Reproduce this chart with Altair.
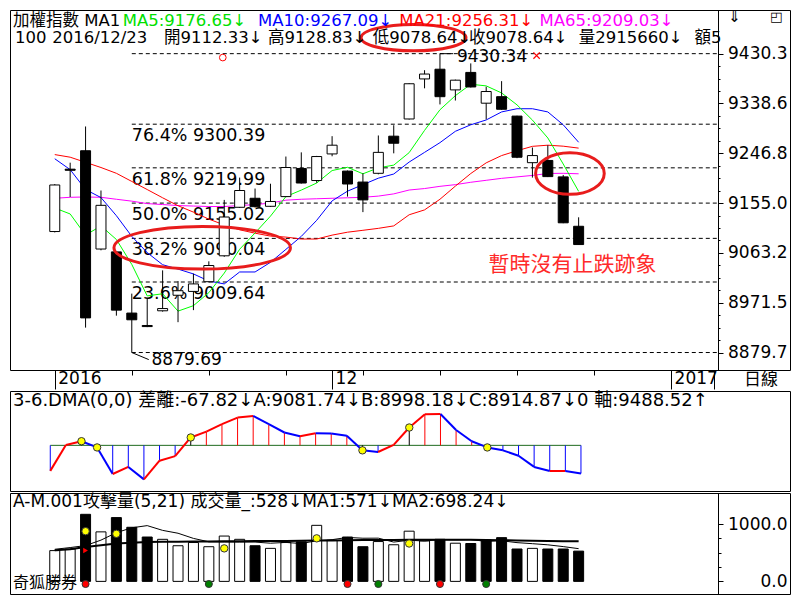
import altair as alt
import pandas as pd
import numpy as np

# ---------------- data ----------------
dates = ["2016/11/07", "2016/11/08", "2016/11/09", "2016/11/10", "2016/11/11",
         "2016/11/14", "2016/11/15", "2016/11/16", "2016/11/17", "2016/11/18",
         "2016/11/21", "2016/11/22", "2016/11/23", "2016/11/24", "2016/11/25",
         "2016/11/28", "2016/11/29", "2016/11/30", "2016/12/01", "2016/12/02",
         "2016/12/05", "2016/12/06", "2016/12/07", "2016/12/08", "2016/12/09",
         "2016/12/12", "2016/12/13", "2016/12/14", "2016/12/15", "2016/12/16",
         "2016/12/19", "2016/12/20", "2016/12/21", "2016/12/22", "2016/12/23"]
open_ = [9102.6, 9217.5, 9251.5, 9070.4, 9065.1, 8952.4, 8929.5, 8956.6, 8985.2, 8992.3,
         9010.2, 9057.9, 9147.3, 9163.9, 9149.1, 9167.0, 9218.8, 9196.6, 9245.6, 9214.0,
         9193.8, 9209.9, 9278.3, 9310.0, 9383.8, 9401.7, 9363.6, 9395.8, 9339.1, 9351.1,
         9315.3, 9229.5, 9233.6, 9203.3, 9112.33]
high = [9190.0, 9229.5, 9296.2, 9178.2, 9066.0, 8988.2, 8979.3, 9031.1, 9011.4, 9025.0,
        9047.7, 9160.9, 9202.0, 9181.8, 9190.7, 9240.8, 9248.5, 9242.0, 9278.3, 9215.0,
        9209.9, 9279.6, 9298.5, 9376.0, 9399.9, 9430.34, 9382.5, 9412.4, 9369.5, 9379.7,
        9316.0, 9257.4, 9261.7, 9206.9, 9128.83]
low = [9101.0, 9166.2, 8925.6, 9068.0, 8947.6, 8879.69, 8926.5, 8955.0, 8935.6, 8957.8,
       9009.0, 9056.0, 9146.0, 9147.0, 9148.0, 9166.0, 9191.0, 9192.5, 9241.3, 9167.0,
       9138.4, 9208.0, 9246.7, 9309.0, 9366.5, 9336.8, 9344.0, 9368.0, 9309.3, 9327.0,
       9237.8, 9202.0, 9203.0, 9118.0, 9078.64]
close = [9188.4, 9215.5, 8943.5, 9150.9, 8957.8, 8940.0, 8927.5, 8960.7, 8993.6, 9006.1,
         9040.0, 9129.4, 9178.2, 9148.4, 9158.0, 9220.6, 9192.0, 9240.8, 9261.7, 9190.2,
         9160.9, 9248.5, 9265.3, 9374.9, 9392.8, 9351.1, 9381.5, 9369.0, 9360.6, 9327.9,
         9239.5, 9242.6, 9203.8, 9118.7, 9078.64]
ma5 = [9146, 9135, 9096, 9113, 9088, 9042, 8984, 8988, 8956, 8966,
       8990, 9026, 9070, 9100, 9131, 9167, 9179, 9192, 9215, 9221,
       9209, 9220, 9225, 9248, 9289, 9327, 9353, 9374, 9371, 9358,
       9336, 9308, 9275, 9227, 9176.65]
ma10 = [9236.7, 9216.7, 9180.0, 9165.2, 9131.8, 9093.7, 9063.8, 9041.5, 9033.4, 9024.5,
        9011.4, 9006.1, 9028.1, 9028.1, 9045.9, 9069.7, 9093.7, 9123.3, 9159.1, 9177.0,
        9189.0, 9200.9, 9208.6, 9230.6, 9248.5, 9266.4, 9287.3, 9299.3, 9308.2, 9323.0,
        9328.9, 9328.9, 9323.0, 9299.3, 9267.09]
ma21 = [9244.4, 9239.6, 9230.1, 9220.6, 9209.9, 9194.9, 9180.0, 9164.8, 9150.2, 9138.4,
        9125.5, 9114.8, 9105.8, 9099.6, 9094.2, 9092.4, 9088.8, 9088.8, 9096.0, 9101.4,
        9104.9, 9108.5, 9113.0, 9133.5, 9142.5, 9162.1, 9186.3, 9209.5, 9229.2, 9242.6,
        9251.5, 9259.6, 9261.7, 9259.9, 9256.31]
ma65 = [9163.9, 9165.7, 9166.3, 9165.7, 9162.1, 9158.6, 9154.1, 9152.3, 9150.5, 9149.6,
        9148.7, 9148.7, 9150.5, 9152.3, 9155.0, 9160.4, 9162.1, 9163.0, 9163.9, 9164.8,
        9165.7, 9167.9, 9172.0, 9179.1, 9181.8, 9185.9, 9189.0, 9193.4, 9197.0, 9200.6,
        9203.3, 9206.0, 9209.6, 9209.9, 9209.03]
fib_pct = ["76.4%", "61.8%", "50.0%", "38.2%", "23.6%"]
fib_val = [9300.39, 9219.99, 9155.02, 9090.04, 9009.64]
price_ticks = [8879.7, 8971.5, 9063.2, 9155.0, 9246.8, 9338.6, 9430.3]
date_tick_idx = [0, 18, 40]
date_tick_lbl = ["2016", "12", "2017"]
week_tick_idx = [5, 10, 15, 20, 25, 30, 35]

dma = [-61.5, 1.0, 10.0, -5.0, -69.0, -52.0, -82.0, -37.0, -26.0, 19.0,
       33.0, 51.0, 67.0, 71.0, 51.0, 31.0, 22.0, 29.0, 28.5, 23.0,
       -12.0, -16.0, 1.0, 43.0, 75.0, 75.5, 37.0, 10.0, -5.0, -12.0,
       -25.0, -52.0, -62.0, -61.8, -67.82]
dma_cross = [2, 3, 9, 20, 23, 28]
dma_readout = {"A": 9081.74, "B": 8998.18, "C": 8914.87, "axis": 9488.52}

volume = [537, 565, 1170, 864, 1113, 944, 774, 734, 622, 678,
          605, 791, 734, 622, 576, 678, 690, 978, 717, 774,
          605, 695, 639, 876, 707, 734, 666, 661, 723, 763,
          565, 576, 565, 565, 528]
vol_ma1 = [560, 590, 625, 720, 850, 935, 973, 890, 840, 750,
           690, 686, 686, 686, 666, 680, 660, 709, 728, 767,
           753, 754, 686, 718, 704, 730, 724, 729, 698, 709,
           676, 658, 638, 607, 571]
vol_ma2 = [545, 560, 600, 630, 660, 675, 685, 690, 692, 695,
           698, 700, 702, 703, 705, 706, 708, 712, 715, 718,
           720, 722, 724, 726, 728, 728, 727, 725, 722, 718,
           714, 710, 706, 702, 698.24]
vol_ticks = [0, 1000]
vol_minor_ticks = [250, 500, 750]
vol_yellow_idx = [2, 4, 11, 17, 23]
vol_yellow_val = [876, 830, 576, 751, 661]
flag_idx = [2]
flag_val = [540]
buy_idx = [2, 19, 25]
sell_idx = [10, 21, 28]

# ---------------- layout ----------------
FONT = "DejaVu Sans, Noto Sans CJK TC"
CJK = "Noto Sans CJK TC, DejaVu Sans"
W, WD = 780, 708          # full panel width, data-area width (divider position)
H1, H2, H3 = 360, 100, 101
STRIP = 19
X_LO, X_DIV = -2.58, 42.78
X_HI = X_LO + (X_DIV - X_LO) * W / WD
AX_OFF = WD - W
SX = WD / 722.0
SY1 = H1 / 371.0

n = len(close)
idx = np.arange(n)
xs = alt.Scale(domain=[X_LO, X_HI], nice=False, zero=False)
ys1 = alt.Scale(domain=[8847.5, 9510.8], nice=False, zero=False)
ys2 = alt.Scale(domain=[-110, 131], nice=False, zero=False)
ys3 = alt.Scale(domain=[-220, 1542], nice=False, zero=False)


def X(field, axis=None):
    return alt.X(field, type="quantitative", scale=xs, axis=axis)


one = pd.DataFrame({"k": [0]})


def label(text, px, py, color="black", size=16.5, font=FONT, align="left"):
    return alt.Chart(one).mark_text(text=text, color=color, fontSize=size, font=font,
                                    align=align, baseline="middle").encode(
        x=alt.value(px), y=alt.value(py))


def ellipse(cx, cy, w, h, sx, sy):
    ratio = (h * sy) / (w * sx)
    path = f"M -1 0 A 1 {ratio:.3f} 0 1 1 1 0 A 1 {ratio:.3f} 0 1 1 -1 0 Z"
    return alt.Chart(one).mark_point(shape=path, size=(w * sx) ** 2, filled=False,
                                     color="#e81c1c", strokeWidth=3, opacity=1).encode(
        x=alt.value(cx * sx), y=alt.value(cy * sy))


# ---- axes ----
lbl_expr = " : ".join([f"datum.value == {i} ? '{t}'" for i, t in zip(date_tick_idx, date_tick_lbl)]) + " : ''"
xaxis_major = alt.Axis(orient="bottom", values=date_tick_idx + [X_DIV], labelExpr=lbl_expr,
                       domain=False, grid=False, tickColor="black", tickWidth=1, tickSize=STRIP,
                       labelAlign="left", labelBaseline="top", labelPadding=-STRIP, labelOffset=3,
                       labelFont=FONT, labelFontSize=17, labelColor="black",
                       labelOverlap=False, labelFlush=False, labelBound=False, title=None)
# weekly ticks hanging from the bottom border into the date strip
xaxis_minor = alt.Axis(orient="top", offset=-(H1 + 5), values=week_tick_idx, labels=False,
                       domain=False, grid=False, tickColor="black", tickWidth=1, tickSize=5,
                       title=None)


def right_axis(values, fmt):
    return alt.Axis(orient="right", offset=AX_OFF, values=values, format=fmt,
                    tickSize=5, tickColor="black", domain=True, domainColor="black",
                    domainWidth=1, grid=False, labelAlign="right", labelPadding=64,
                    labelFont=FONT, labelFontSize=17, labelColor="black",
                    labelOverlap=False, labelFlush=False, labelBound=False, title=None)


def minor_axis(values, size):
    # small ticks just right of the divider (left-oriented axis moved onto the divider)
    return alt.Axis(orient="left", offset=-(WD + size), values=values, labels=False,
                    domain=False, grid=False, tickColor="black", tickWidth=1, tickSize=size,
                    title=None)


minor_price = []
for a, b in zip(price_ticks[:-1], price_ticks[1:]):
    minor_price += [round(float(v), 3) for v in np.linspace(a, b, 5)[1:-1]]

# ---------------- main (candles) panel ----------------
cdf = pd.DataFrame({"i": idx, "date": dates, "open": open_, "high": high,
                    "low": low, "close": close})
cdf["body"] = np.where(cdf["close"] >= cdf["open"], "up", "down")
i_peak = int(cdf["high"].idxmax())
i_trough = int(cdf["low"].idxmin())
peak = float(cdf["high"].max())
trough = float(cdf["low"].min())

fdf = pd.DataFrame({"val": [peak] + fib_val + [trough], "x0": i_trough})
fib_rules = alt.Chart(fdf).mark_rule(color="black", strokeDash=[4, 3], strokeWidth=1).encode(
    x=X("x0", xaxis_major), x2=alt.value(WD),
    y=alt.Y("val:Q", scale=ys1, axis=right_axis(price_ticks, ".1f")))

fl = pd.DataFrame({"val": fib_val,
                   "lbl": [f"{p} {v:.2f}" for p, v in zip(fib_pct, fib_val)],
                   "x0": i_trough})
fib_text = alt.Chart(fl).mark_text(align="left", baseline="top", dy=3, fontSize=17.5,
                                   font=FONT, color="black").encode(
    x=X("x0"), y=alt.Y("val:Q", scale=ys1, axis=None), text="lbl:N")

madf = pd.concat([pd.DataFrame({"i": idx, "v": arr, "s": name})
                  for name, arr in [("MA65", ma65), ("MA21", ma21), ("MA10", ma10), ("MA5", ma5)]])
ma_lines = alt.Chart(madf).mark_line(strokeWidth=1).encode(
    x=X("i"), y=alt.Y("v:Q", scale=ys1, axis=None),
    color=alt.Color("s:N", scale=alt.Scale(domain=["MA5", "MA10", "MA21", "MA65"],
                                           range=["#00ff00", "#0000ff", "#ff0000", "#ff00ff"]),
                    legend=None))

wicks = alt.Chart(cdf).mark_rule(color="black", strokeWidth=1).encode(
    x=X("i", xaxis_minor), y=alt.Y("low:Q", scale=ys1, axis=minor_axis(minor_price, 2)), y2="high:Q")
bodies = alt.Chart(cdf).mark_bar(size=10, stroke="black", strokeWidth=1, orient="vertical").encode(
    x=X("i"), y=alt.Y("open:Q", scale=ys1, axis=None), y2="close:Q",
    fill=alt.Fill("body:N", scale=alt.Scale(domain=["up", "down"], range=["white", "black"]), legend=None))

pk = pd.DataFrame({"i": [i_peak], "v": [peak], "lbl": [f"{peak:.2f}"]})
pk["i2"] = pk["i"] + 0.85
pk["it"] = pk["i"] + 1.1
pk_rule = alt.Chart(pk).mark_rule(color="black").encode(
    x=X("i"), x2="i2:Q", y=alt.Y("v:Q", scale=ys1, axis=None))
pk_text = alt.Chart(pk).mark_text(align="left", baseline="middle", dy=3, fontSize=17,
                                  font=FONT, color="black").encode(
    x=X("it"), y=alt.Y("v:Q", scale=ys1, axis=None), text="lbl:N")

tr = pd.DataFrame({"i": [i_trough], "v": [trough], "lbl": [f"{trough:.2f}"]})
tr["i2"] = tr["i"] + 1.1
tr["v2"] = tr["v"] - 13
tr["it"] = tr["i"] + 1.28
tr_rule = alt.Chart(tr).mark_rule(color="black").encode(
    x=X("i"), x2="i2:Q", y=alt.Y("v:Q", scale=ys1, axis=None), y2="v2:Q")
tr_text = alt.Chart(tr).mark_text(align="left", baseline="middle", dy=7, fontSize=17,
                                  font=FONT, color="black").encode(
    x=X("it"), y=alt.Y("v:Q", scale=ys1, axis=None), text="lbl:N")

red_o = alt.Chart(one).mark_point(shape="circle", size=45, filled=False, color="#ff0000",
                                  strokeWidth=1, opacity=1).encode(
    x=alt.value(217 * SX), y=alt.value(49 * SY1))
red_x = alt.Chart(one).mark_point(shape="M -1 -1 L 1 1 M -1 1 L 1 -1", size=40, filled=False,
                                  color="#ff0000", strokeWidth=1.2, opacity=1).encode(
    x=alt.value(537 * SX), y=alt.value(47 * SY1))

hdr1 = [("加權指數 MA1", 3, "black"),
        (f"MA5:{ma5[-1]:.2f}↓", 115, "#00e000"),
        (f"MA10:{ma10[-1]:.2f}↓", 253, "#0000ff"),
        (f"MA21:{ma21[-1]:.2f}↓", 397, "#ff0000"),
        (f"MA65:{ma65[-1]:.2f}↓", 540, "#ff00ff")]
hdr2 = [("100", 5), (dates[-1], 43),
        (f"開{open_[-1]:.2f}↓", 157), (f"高{high[-1]:.2f}↓", 263),
        (f"低{low[-1]:.2f}↓", 370), (f"收{close[-1]:.2f}↓", 468),
        ("量2915660↓", 580), ("額5", 698)]
hdr_layers = [label(t, x * SX, 11 * SY1, color=c) for t, x, c in hdr1]
hdr_layers += [label(t, x * SX, 29 * SY1) for t, x in hdr2]

slogan = label("暫時沒有止跌跡象", 488 * SX, 263 * SY1, color="#ff2a2a", size=21, font=CJK)
day_lbl = label("日線", WD + 26, H1 + 10, size=17, font=CJK)
icon1 = label("⇓", WD + 10, 7, size=15)
icon2 = label("◰", WD + 52, 7, size=13)

ell = [ellipse(411.5, 28.5, 107, 27, SX, SY1),
       ellipse(196, 245, 180, 44, SX, SY1),
       ellipse(571, 168.5, 70, 43, SX, SY1)]

main = alt.layer(fib_rules, fib_text, ma_lines, wicks, bodies, pk_rule, pk_text,
                 tr_rule, tr_text, red_o, red_x, slogan, day_lbl, icon1, icon2,
                 *ell, *hdr_layers).resolve_axis(x="independent", y="independent").resolve_scale(
    color="independent", fill="independent").properties(width=W, height=H1)

# ---------------- DMA panel ----------------
ddf = pd.DataFrame({"i": idx, "d": dma, "z": 0.0})
ddf["kind"] = np.where(ddf["i"].isin(dma_cross), "cross", np.where(ddf["d"] > 0, "pos", "neg"))
sdf = pd.DataFrame({"i0": idx[:-1], "i1": idx[1:], "d0": dma[:-1], "d1": dma[1:]})
sdf["dir"] = np.where(sdf["d1"] > sdf["d0"], "rise", "fall")
zdf = pd.DataFrame({"x0": [idx[0]], "x1": [idx[-1]], "z": [0.0]})

zero_line = alt.Chart(zdf).mark_rule(color="#1f6b1f", strokeWidth=1).encode(
    x=X("x0"), x2="x1:Q", y=alt.Y("z:Q", scale=ys2, axis=right_axis([0], ".2f")))
stems = alt.Chart(ddf).mark_rule(strokeWidth=1).encode(
    x=X("i"), y=alt.Y("d:Q", scale=ys2, axis=None), y2="z:Q",
    color=alt.Color("kind:N", scale=alt.Scale(domain=["pos", "neg", "cross"],
                                              range=["#ff0000", "#0000ff", "black"]), legend=None))
segs = alt.Chart(sdf).mark_rule(strokeWidth=2).encode(
    x=X("i0"), x2="i1:Q", y=alt.Y("d0:Q", scale=ys2, axis=None), y2="d1:Q",
    color=alt.Color("dir:N", scale=alt.Scale(domain=["rise", "fall"], range=["#ff0000", "#0000ff"]),
                    legend=None))
ydots = alt.Chart(ddf[ddf["i"].isin(dma_cross)]).mark_circle(
    size=55, color="#ffff00", stroke="#333333", strokeWidth=1, opacity=1).encode(
    x=X("i"), y=alt.Y("d:Q", scale=ys2, axis=None))
dma_hdr = label(f"3-6.DMA(0,0) 差離:{dma[-1]:.2f}↓A:{dma_readout['A']:.2f}↓B:{dma_readout['B']:.2f}↓"
                f"C:{dma_readout['C']:.2f}↓0 軸:{dma_readout['axis']:.2f}↑", 3, 10, size=18)

dma_panel = alt.layer(zero_line, stems, segs, ydots, dma_hdr).resolve_scale(
    color="independent").properties(width=W, height=H2)

# ---------------- volume panel ----------------
vdf = pd.DataFrame({"i": idx, "vol": volume, "ma1": vol_ma1, "ma2": vol_ma2})
prev = pd.Series(close).shift(1)
vdf["dir"] = np.where((pd.Series(close) >= prev) | prev.isna(), "up", "down")

vbars = alt.Chart(vdf).mark_bar(size=10, stroke="black", strokeWidth=1, orient="vertical").encode(
    x=X("i"), y=alt.Y("vol:Q", scale=ys3, axis=right_axis(vol_ticks, ".1f")),
    fill=alt.Fill("dir:N", scale=alt.Scale(domain=["up", "down"], range=["white", "black"]), legend=None))
vma2 = alt.Chart(vdf).mark_line(color="black", strokeWidth=2).encode(
    x=X("i"), y=alt.Y("ma2:Q", scale=ys3, axis=minor_axis(vol_minor_ticks, 3)))
vma1 = alt.Chart(vdf).mark_line(color="black", strokeWidth=1).encode(
    x=X("i"), y=alt.Y("ma1:Q", scale=ys3, axis=None))
vy = pd.DataFrame({"i": vol_yellow_idx, "v": vol_yellow_val})
vydots = alt.Chart(vy).mark_circle(size=55, color="#ffff00", stroke="#333333",
                                   strokeWidth=1, opacity=1).encode(
    x=X("i"), y=alt.Y("v:Q", scale=ys3, axis=None))
fl_df = pd.DataFrame({"i": flag_idx, "v": flag_val})
vflag = alt.Chart(fl_df).mark_point(shape="triangle-right", size=30, filled=True,
                                    color="#ff0000", opacity=1).encode(
    x=X("i"), y=alt.Y("v:Q", scale=ys3, axis=None))
sig = pd.DataFrame({"i": buy_idx + sell_idx, "kind": ["buy"] * len(buy_idx) + ["sell"] * len(sell_idx)})
sdots = alt.Chart(sig).mark_circle(size=50, stroke="#333333", strokeWidth=1, opacity=1).encode(
    x=X("i"), y=alt.value(H3 - 10),
    color=alt.Color("kind:N", scale=alt.Scale(domain=["buy", "sell"], range=["#ff0000", "#008000"]),
                    legend=None))
vol_hdr = label(f"A-M.001攻擊量(5,21) 成交量_:{volume[-1]}↓MA1:{vol_ma1[-1]}↓MA2:{vol_ma2[-1]:.2f}↓",
                3, 9, size=17)
brand = label("奇狐勝券", 3, H3 - 11, size=16, font=CJK)

vol_panel = alt.layer(vbars, vma2, vma1, vydots, vflag, sdots, vol_hdr, brand).resolve_axis(
    y="independent").resolve_scale(color="independent", fill="independent").properties(width=W, height=H3)

chart = alt.vconcat(main, dma_panel, vol_panel, spacing=0).properties(
    padding={"left": 1, "top": 1, "right": 1, "bottom": 1}, background="white"
).configure_view(stroke="black", strokeWidth=1)

chart.save("out.html", embed_options={"renderer": "svg", "actions": False})
